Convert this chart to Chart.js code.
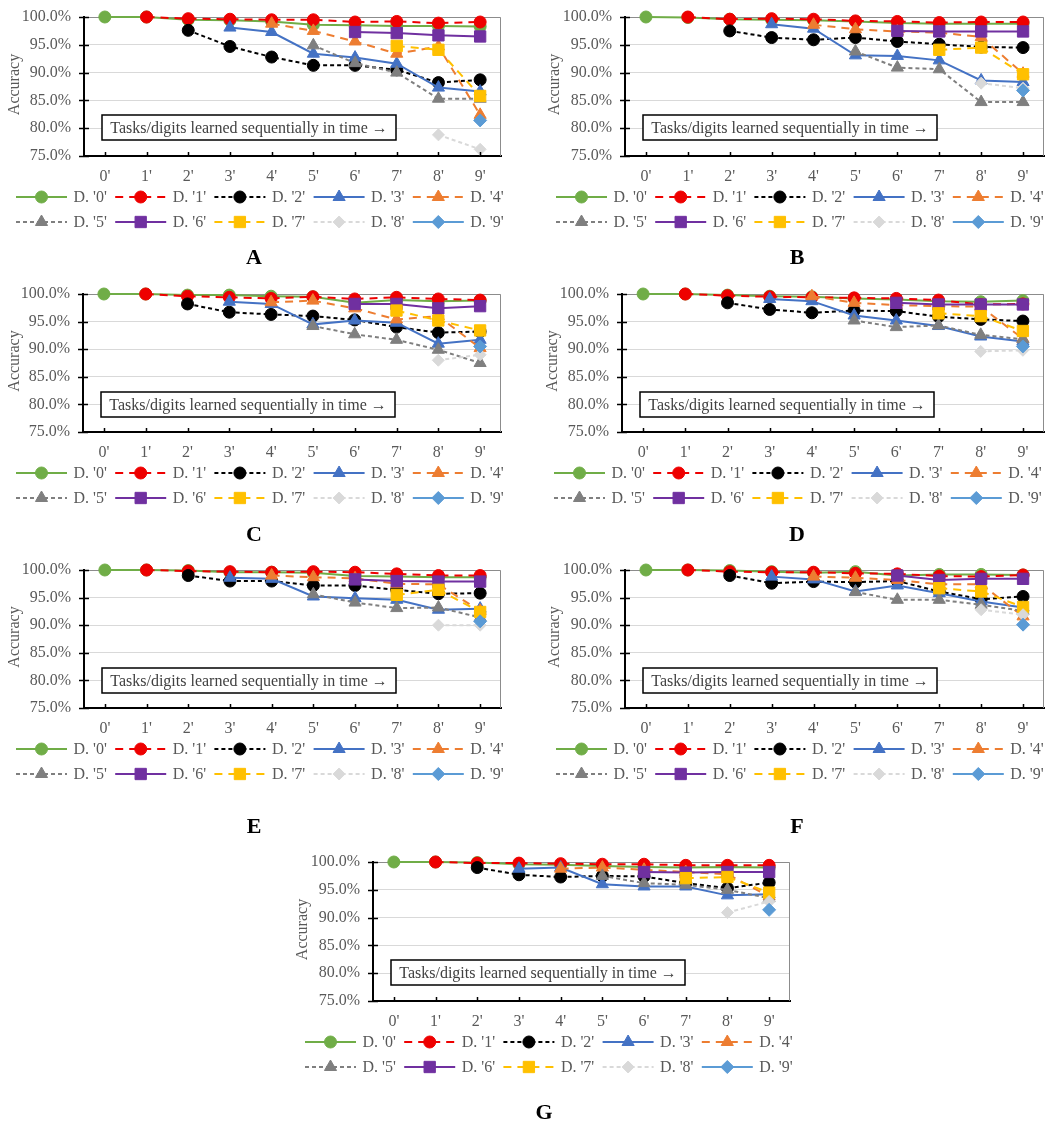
<!DOCTYPE html>
<html>
<head>
<meta charset="utf-8">
<script src="https://cdn.jsdelivr.net/npm/chart.js@4.4.1/dist/chart.umd.min.js"></script>
<style>
  body { margin: 0; background: #fff; }
  #page { position: relative; width: 1063px; height: 1125px; overflow: hidden; background: #fff; }
  #page canvas { position: absolute; }
</style>
</head>
<body>
<div id="page"></div>
<script>
// categories (tasks learned in time) and series names
const taskLabels = ["0'", "1'", "2'", "3'", "4'", "5'", "6'", "7'", "8'", "9'"];
const seriesNames = ["D. '0'", "D. '1'", "D. '2'", "D. '3'", "D. '4'", "D. '5'", "D. '6'", "D. '7'", "D. '8'", "D. '9'"];
const yTickValues = [75, 80, 85, 90, 95, 100];

// accuracy (%) per digit, one row per digit, panel by panel
const dataA = [
  [100, 100, 99.5, 99.4, 99.2, 98.6, 98.5, 98.4, 98.4, 98.3],
  [null, 100, 99.7, 99.6, 99.5, 99.5, 99.1, 99.2, 98.9, 99.1],
  [null, null, 97.6, 94.7, 92.8, 91.3, 91.3, 90.5, 88.2, 88.7],
  [null, null, null, 98.1, 97.3, 93.4, 92.7, 91.6, 87.3, 86.6],
  [null, null, null, null, 98.8, 97.5, 95.6, 93.4, 94.7, 82.4],
  [null, null, null, null, null, 94.9, 91.7, 90.0, 85.3, 85.3],
  [null, null, null, null, null, null, 97.3, 97.1, 96.7, 96.5],
  [null, null, null, null, null, null, null, 94.8, 94.1, 85.8],
  [null, null, null, null, null, null, null, null, 78.8, 76.2],
  [null, null, null, null, null, null, null, null, null, 81.4]
];
const dataB = [
  [100, 99.9, 99.6, 99.5, 99.4, 99.2, 98.9, 98.8, 98.8, 98.8],
  [null, 100, 99.6, 99.7, 99.6, 99.3, 99.2, 99.0, 99.1, 99.1],
  [null, null, 97.5, 96.3, 95.9, 96.3, 95.6, 95.1, 94.6, 94.5],
  [null, null, null, 98.7, 97.9, 93.1, 93.0, 92.2, 88.6, 88.3],
  [null, null, null, null, 98.6, 97.8, 97.4, 97.2, 96.4, 89.8],
  [null, null, null, null, null, 93.8, 90.9, 90.6, 84.7, 84.7],
  [null, null, null, null, null, null, 97.5, 97.4, 97.4, 97.4],
  [null, null, null, null, null, null, null, 94.1, 94.5, 89.7],
  [null, null, null, null, null, null, null, null, 88.1, 87.2],
  [null, null, null, null, null, null, null, null, null, 86.8]
];
const dataC = [
  [100, 100, 99.8, 99.8, 99.6, 99.5, 98.4, 98.9, 98.7, 98.8],
  [null, 100, 99.6, 99.4, 99.2, 99.5, 99.1, 99.4, 99.1, 98.9],
  [null, null, 98.2, 96.7, 96.3, 96.0, 95.3, 94.0, 93.0, 93.2],
  [null, null, null, 98.6, 98.2, 94.5, 95.2, 94.8, 91.0, 91.7],
  [null, null, null, null, 98.5, 98.8, 97.4, 95.4, 96.0, 90.2],
  [null, null, null, null, null, 94.2, 92.7, 91.7, 89.9, 87.5],
  [null, null, null, null, null, null, 98.2, 98.2, 97.4, 97.8],
  [null, null, null, null, null, null, null, 97.0, 95.2, 93.4],
  [null, null, null, null, null, null, null, null, 88.0, 89.0],
  [null, null, null, null, null, null, null, null, null, 90.5]
];
const dataD = [
  [100, 100, 99.8, 99.6, 99.5, 99.2, 99.0, 98.7, 98.6, 98.8],
  [null, 100, 99.7, 99.5, 99.4, 99.3, 99.2, 98.9, 98.1, 98.2],
  [null, null, 98.4, 97.2, 96.6, 97.0, 96.9, 95.9, 95.4, 95.1],
  [null, null, null, 99.1, 98.7, 96.1, 95.2, 94.2, 92.3, 91.4],
  [null, null, null, null, 99.6, 98.4, 98.0, 97.8, 97.7, 91.9],
  [null, null, null, null, null, 95.2, 94.0, 94.3, 92.6, 91.8],
  [null, null, null, null, null, null, 98.4, 98.1, 98.1, 98.1],
  [null, null, null, null, null, null, null, 96.5, 96.0, 93.3],
  [null, null, null, null, null, null, null, null, 89.6, 89.8],
  [null, null, null, null, null, null, null, null, null, 90.5]
];
const dataE = [
  [100, 100, 99.9, 99.6, 99.6, 99.5, 98.9, 98.8, 98.7, 98.7],
  [null, 100, 99.8, 99.7, 99.6, 99.7, 99.6, 99.3, 99.0, 99.0],
  [null, null, 99.0, 98.0, 98.0, 97.2, 97.2, 96.4, 95.7, 95.8],
  [null, null, null, 98.6, 98.4, 95.2, 94.9, 94.6, 92.8, 93.0],
  [null, null, null, null, 99.0, 98.7, 98.5, 97.5, 97.4, 92.6],
  [null, null, null, null, null, 95.6, 94.1, 93.1, 93.2, 91.4],
  [null, null, null, null, null, null, 98.3, 98.0, 97.9, 97.9],
  [null, null, null, null, null, null, null, 95.5, 96.4, 92.4],
  [null, null, null, null, null, null, null, null, 90.0, 90.0],
  [null, null, null, null, null, null, null, null, null, 90.7]
];
const dataF = [
  [100, 100, 99.9, 99.7, 99.5, 99.7, 99.0, 99.2, 99.2, 99.1],
  [null, 100, 99.7, 99.6, 99.6, 99.4, 99.3, 98.9, 98.8, 99.1],
  [null, null, 99.0, 97.6, 97.9, 97.8, 98.0, 96.1, 94.7, 95.2],
  [null, null, null, 98.8, 98.3, 96.1, 97.2, 95.8, 94.3, 93.2],
  [null, null, null, null, 98.8, 98.6, 98.2, 97.4, 97.4, 91.6],
  [null, null, null, null, null, 96.0, 94.6, 94.6, 93.7, 92.6],
  [null, null, null, null, null, null, 99.0, 98.2, 98.4, 98.4],
  [null, null, null, null, null, null, null, 96.7, 96.1, 93.3],
  [null, null, null, null, null, null, null, null, 92.8, 91.9],
  [null, null, null, null, null, null, null, null, null, 90.1]
];
const dataG = [
  [100, 100, 99.9, 99.6, 99.5, 99.3, 99.1, 99.0, 99.1, 99.0],
  [null, 100, 99.8, 99.8, 99.7, 99.6, 99.6, 99.4, 99.4, 99.4],
  [null, null, 99.0, 97.7, 97.3, 97.5, 97.4, 96.2, 95.3, 96.3],
  [null, null, null, 98.8, 99.0, 96.0, 95.6, 95.6, 94.0, 94.2],
  [null, null, null, null, 98.8, 99.0, 98.6, 98.2, 97.8, 93.8],
  [null, null, null, null, null, 97.5, 96.2, 95.9, 95.0, 93.5],
  [null, null, null, null, null, null, 98.2, 98.1, 98.2, 98.2],
  [null, null, null, null, null, null, null, 97.1, 97.3, 94.5],
  [null, null, null, null, null, null, null, null, 90.9, 92.9],
  [null, null, null, null, null, null, null, null, null, 91.4]
];

// series look
const colors = ['#70AD47', '#EE0000', '#000000', '#4472C4', '#ED7D31', '#7F7F7F', '#7030A0', '#FFC000', '#D9D9D9', '#5B9BD5'];
const dashes = [[], [8, 6], [4, 3], [], [8, 6], [4, 3], [], [8, 6], [4, 3], []];
const markers = ['circle', 'circle', 'circle', 'triangle', 'triangle', 'triangle', 'rect', 'rect', 'rectRot', 'rectRot'];
const radii = [6, 6, 6, 7, 7, 7, 8, 8, 6, 6.5];

const FONT = '"Times New Roman", "Liberation Serif", serif';
const GREY_TXT = '#595959';
Chart.defaults.font.family = FONT;
Chart.defaults.font.size = 16;
Chart.defaults.color = GREY_TXT;

// panel placement on the page (page pixels)
const panels = [
  { letter: 'A', data: dataA, cl: 0,   ct: 0,   W: 530, H: 275, plotL: 84,  plotR: 501,  plotT: 17,  plotB: 156,  legX: 16,  legY: 197,  letX: 254, letY: 258,  yTitleX: 15 },
  { letter: 'B', data: dataB, cl: 530, ct: 0,   W: 533, H: 275, plotL: 625, plotR: 1044, plotT: 17,  plotB: 156,  legX: 556, legY: 197,  letX: 797, letY: 258,  yTitleX: 555 },
  { letter: 'C', data: dataC, cl: 0,   ct: 277, W: 530, H: 275, plotL: 83,  plotR: 501,  plotT: 294, plotB: 432,  legX: 16,  legY: 473,  letX: 254, letY: 535,  yTitleX: 15 },
  { letter: 'D', data: dataD, cl: 530, ct: 277, W: 533, H: 275, plotL: 622, plotR: 1044, plotT: 294, plotB: 432,  legX: 554, legY: 473,  letX: 797, letY: 535,  yTitleX: 553 },
  { letter: 'E', data: dataE, cl: 0,   ct: 553, W: 530, H: 290, plotL: 84,  plotR: 501,  plotT: 570, plotB: 708,  legX: 16,  legY: 749,  letX: 254, letY: 827,  yTitleX: 15 },
  { letter: 'F', data: dataF, cl: 530, ct: 553, W: 533, H: 290, plotL: 625, plotR: 1044, plotT: 570, plotB: 708,  legX: 556, legY: 749,  letX: 797, letY: 827,  yTitleX: 555 },
  { letter: 'G', data: dataG, cl: 280, ct: 845, W: 530, H: 280, plotL: 373, plotR: 790,  plotT: 862, plotB: 1001, legX: 305, legY: 1042, letX: 544, letY: 1113, yTitleX: 303 }
];

function drawMarker(ctx, i, x, y) {
  ctx.save();
  ctx.setLineDash([]);
  ctx.fillStyle = colors[i];
  ctx.strokeStyle = colors[i];
  ctx.lineWidth = 1;
  Chart.helpers.drawPoint(ctx, { pointStyle: markers[i], radius: radii[i], rotation: 0, borderWidth: 1 }, x, y);
  ctx.restore();
}

// frame, tick marks, text box, y title, legend and panel letter
const decor = {
  id: 'decor',
  beforeDatasetsDraw(chart, args, o) {
    const { ctx, chartArea: a } = chart;
    ctx.save();
    ctx.strokeStyle = '#8c8c8c';
    ctx.lineWidth = 1;
    ctx.beginPath();
    ctx.moveTo(a.left, a.top + 0.5);
    ctx.lineTo(a.right - 0.5, a.top + 0.5);
    ctx.lineTo(a.right - 0.5, a.bottom);
    ctx.stroke();

    // "Tasks/digits ..." box
    const bx = a.left + 18, by = a.top + 98, bw = 294, bh = 25;
    ctx.fillStyle = '#fff';
    ctx.fillRect(bx, by, bw, bh);
    ctx.strokeStyle = '#000';
    ctx.lineWidth = 1.5;
    ctx.strokeRect(bx, by, bw, bh);
    ctx.fillStyle = '#404040';
    ctx.font = '16px ' + FONT;
    ctx.textAlign = 'center';
    ctx.textBaseline = 'middle';
    ctx.fillText('Tasks/digits learned sequentially in time \u2192', bx + bw / 2, by + bh / 2 + 1);
    ctx.restore();
  },
  afterDraw(chart, args, o) {
    const { ctx, chartArea: a, scales } = chart;
    ctx.save();
    // y tick marks crossing the axis
    ctx.strokeStyle = '#000';
    ctx.lineWidth = 1.5;
    ctx.beginPath();
    yTickValues.forEach(v => {
      const y = Math.round(scales.y.getPixelForValue(v)) + 0.5;
      ctx.moveTo(a.left - 5, y);
      ctx.lineTo(a.left + 5, y);
    });
    // x tick marks pointing up
    taskLabels.forEach((t, i) => {
      const x = Math.round(scales.x.getPixelForValue(i)) + 0.5;
      ctx.moveTo(x, a.bottom);
      ctx.lineTo(x, a.bottom - 4);
    });
    ctx.stroke();

    // y axis title
    ctx.save();
    ctx.translate(o.yTitleX, (a.top + a.bottom) / 2 - 2);
    ctx.rotate(-Math.PI / 2);
    ctx.fillStyle = GREY_TXT;
    ctx.font = '16px ' + FONT;
    ctx.textAlign = 'center';
    ctx.textBaseline = 'middle';
    ctx.fillText('Accuracy', 0, 0);
    ctx.restore();

    // legend, two rows of five
    ctx.font = '16px ' + FONT;
    ctx.textAlign = 'left';
    ctx.textBaseline = 'middle';
    seriesNames.forEach((name, i) => {
      const x = o.legX + (i % 5) * 99.2;
      const y = o.legY + Math.floor(i / 5) * 25;
      ctx.save();
      ctx.strokeStyle = colors[i];
      ctx.lineWidth = 2;
      ctx.setLineDash(dashes[i]);
      ctx.beginPath();
      ctx.moveTo(x, y);
      ctx.lineTo(x + 51, y);
      ctx.stroke();
      ctx.restore();
      drawMarker(ctx, i, x + 25.5, y);
      ctx.fillStyle = GREY_TXT;
      ctx.fillText(name, x + 57.5, y + 1);
    });

    // panel letter
    ctx.fillStyle = '#000';
    ctx.font = 'bold 22px ' + FONT;
    ctx.textAlign = 'center';
    ctx.fillText(o.letter, o.letX, o.letY);
    ctx.restore();
  }
};

const page = document.getElementById('page');
const xAxisH = 30;

function buildChart(canvas, p, pad) {
  const datasets = p.data.map((vals, i) => ({
    label: seriesNames[i],
    data: vals,
    borderColor: colors[i],
    backgroundColor: colors[i],
    borderWidth: 2,
    borderDash: dashes[i],
    pointStyle: markers[i],
    pointRadius: radii[i],
    pointBorderWidth: 1,
    pointBackgroundColor: colors[i],
    pointBorderColor: colors[i],
    tension: 0,
    clip: false,
    order: 9 - i // later digits drawn on top, as in the source
  }));

  return new Chart(canvas.getContext('2d'), {
    type: 'line',
    data: { labels: taskLabels, datasets },
    plugins: [decor],
    options: {
      responsive: false,
      animation: false,
      devicePixelRatio: 1,
      layout: { padding: pad },
      plugins: {
        legend: { display: false },
        tooltip: { enabled: false },
        decor: {
          letter: p.letter,
          legX: p.legX - p.cl,
          legY: p.legY - p.ct,
          letX: p.letX - p.cl,
          letY: p.letY - p.ct,
          yTitleX: p.yTitleX - p.cl
        }
      },
      scales: {
        x: {
          offset: true,
          grid: { display: false, drawTicks: false },
          border: { display: true, color: '#000', width: 2 },
          ticks: { padding: 11, color: GREY_TXT, font: { size: 16 } },
          afterFit: s => { s.height = xAxisH; }
        },
        y: {
          min: 75,
          max: 100,
          afterBuildTicks: s => { s.ticks = yTickValues.map(v => ({ value: v })); },
          grid: { color: '#D9D9D9', lineWidth: 1, drawTicks: false },
          border: { display: true, color: '#000', width: 2 },
          ticks: {
            padding: 13,
            color: GREY_TXT,
            font: { size: 16 },
            callback: v => v.toFixed(1) + '%'
          },
          afterFit: s => {
            s.width = p.plotL - p.cl;
            // the tick padding is meant sideways only, not above/below the plot
            s.paddingTop = 0;
            s.paddingBottom = 0;
          }
        }
      }
    }
  });
}

panels.forEach(p => {
  const canvas = document.createElement('canvas');
  canvas.width = p.W;
  canvas.height = p.H;
  canvas.style.left = p.cl + 'px';
  canvas.style.top = p.ct + 'px';
  canvas.style.width = p.W + 'px';
  canvas.style.height = p.H + 'px';
  page.appendChild(canvas);

  const pad = {
    left: 0,
    right: p.cl + p.W - p.plotR,
    top: p.plotT - p.ct,
    bottom: p.H - (p.plotB - p.ct) - xAxisH
  };

  // build once, see where the plot area fell, rebuild with corrected padding
  let chart = buildChart(canvas, p, pad);
  const a = chart.chartArea;
  const dTop = a.top - (p.plotT - p.ct);
  const dBottom = a.bottom - (p.plotB - p.ct);
  if (Math.abs(dTop) > 0.3 || Math.abs(dBottom) > 0.3) {
    chart.destroy();
    canvas.width = p.W;
    canvas.height = p.H;
    canvas.style.width = p.W + 'px';
    canvas.style.height = p.H + 'px';
    chart = buildChart(canvas, p, {
      left: pad.left,
      right: pad.right,
      top: pad.top - dTop,
      bottom: pad.bottom + dBottom
    });
  }
});
</script>
</body>
</html>
